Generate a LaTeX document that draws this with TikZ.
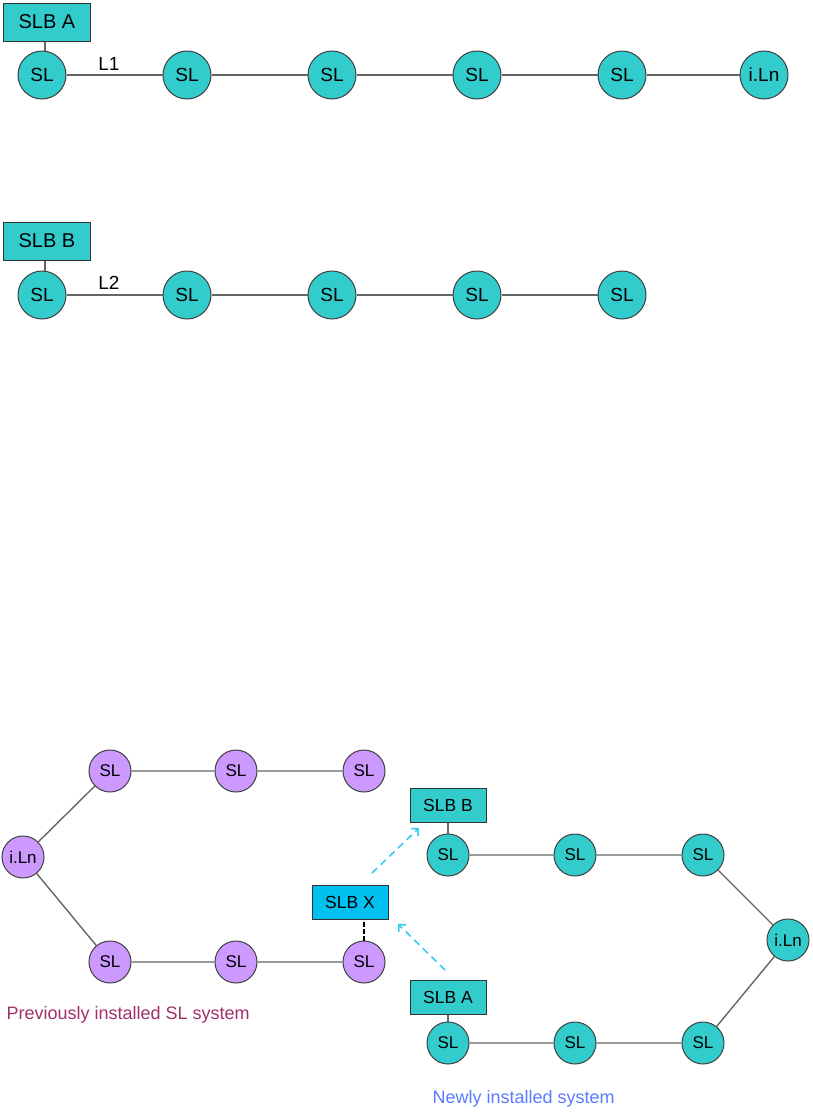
\documentclass[tikz,border=0pt]{standalone}
\usepackage{fontspec}
\setmainfont{Liberation Sans}
\usetikzlibrary{arrows.meta}
\definecolor{slteal}{HTML}{33CCCC}
\definecolor{slpurple}{HTML}{CC99FF}
\definecolor{slbx}{HTML}{00C0F0}
\definecolor{oldtext}{HTML}{A0306A}
\definecolor{newtext}{HTML}{5A7BFF}
\tikzset{
    slbig/.style={circle, draw=black!75, line width=1pt, fill=slteal, minimum size=48pt, inner sep=0pt, font=\fontsize{19}{19}\selectfont},
    slsmall/.style={circle, draw=black!75, line width=1pt, fill=slteal, minimum size=42pt, inner sep=0pt, font=\fontsize{17}{17}\selectfont},
    slold/.style={slsmall, fill=slpurple},
    slbbig/.style={rectangle, draw=black!80, line width=1pt, fill=slteal, minimum width=87pt, minimum height=38pt, inner sep=0pt, font=\fontsize{20}{20}\selectfont},
    slbsmall/.style={rectangle, draw=black!80, line width=1pt, fill=slteal, minimum width=76pt, minimum height=34pt, inner sep=0pt, font=\fontsize{17.5}{18}\selectfont},
    link/.style={draw=black!60, line width=1.4pt},
    move/.style={draw=slbx!80!white, dashed, line width=1.6pt, dash pattern=on 7pt off 5pt, -{Straight Barb[length=5pt,width=10pt]}}
}
\begin{document}
\begin{tikzpicture}[x=1pt, y=-1pt]
    \useasboundingbox (0,0) rectangle (812,1114);
    % line L1
    \node(slba) [slbbig] at (47,22) {SLB A};
    \node(a1) [slbig] at (42,75) {SL};
    \node(a2) [slbig] at (187,75) {SL};
    \node(a3) [slbig] at (332,75) {SL};
    \node(a4) [slbig] at (477,75) {SL};
    \node(a5) [slbig] at (622,75) {SL};
    \node(a6) [slbig] at (764,75) {i.Ln};
    \node(lone) [font=\fontsize{19}{19}\selectfont] at (109,64) {L1};
    \draw[link] (slba.south -| 45,0) -- (a1.north -| 45,0);
    \draw[link] (a1) -- (a2) -- (a3) -- (a4) -- (a5) -- (a6);
    % line L2
    \node(slbb) [slbbig] at (47,241) {SLB B};
    \node(b1) [slbig] at (42,295) {SL};
    \node(b2) [slbig] at (187,295) {SL};
    \node(b3) [slbig] at (332,295) {SL};
    \node(b4) [slbig] at (477,295) {SL};
    \node(b5) [slbig] at (622,295) {SL};
    \node(ltwo) [font=\fontsize{19}{19}\selectfont] at (109,283) {L2};
    \draw[link] (slbb.south -| 45,0) -- (b1.north -| 45,0);
    \draw[link] (b1) -- (b2) -- (b3) -- (b4) -- (b5);
    % previously installed system
    \node(oldln) [slold] at (23,857) {i.Ln};
    \node(o1) [slold] at (110,771) {SL};
    \node(o2) [slold] at (236,771) {SL};
    \node(o3) [slold] at (364,771) {SL};
    \node(o4) [slold] at (110,962) {SL};
    \node(o5) [slold] at (236,962) {SL};
    \node(o6) [slold] at (364,962) {SL};
    \node(slbx) [slbsmall, fill=slbx] at (350,902) {SLB X};
    \draw[link] (o3) -- (o2) -- (o1) -- (oldln) -- (o4) -- (o5) -- (o6);
    \draw[black, line width=2.4pt, dash pattern=on 5pt off 2pt] (o6.north) -- (o6 |- slbx.south);
    \node(oldlabel) [text=oldtext, anchor=west, font=\fontsize{18}{18}\selectfont] at (3,1015) {Previously installed SL system};
    % newly installed system
    \node(newb) [slbsmall] at (448,805) {SLB B};
    \node(n1) [slsmall] at (448,855) {SL};
    \node(n2) [slsmall] at (575,855) {SL};
    \node(n3) [slsmall] at (703,855) {SL};
    \node(newln) [slsmall] at (788,940) {i.Ln};
    \node(n4) [slsmall] at (448,1043) {SL};
    \node(n5) [slsmall] at (575,1043) {SL};
    \node(n6) [slsmall] at (703,1043) {SL};
    \node(newa) [slbsmall] at (448,997) {SLB A};
    \draw[link] (newb) -- (n1);
    \draw[link] (newa) -- (n4);
    \draw[link] (n1) -- (n2) -- (n3) -- (newln) -- (n6) -- (n5) -- (n4);
    \node(newlabel) [text=newtext, anchor=west, font=\fontsize{18}{18}\selectfont] at (429,1099) {Newly installed system};
    % moves
    \coordinate (mvbstart) at (372,873);
    \coordinate (mvbend) at (419,828);
    \coordinate (mvastart) at (445,970);
    \coordinate (mvaend) at (398,924);
    \draw[move] (mvbstart) -- (mvbend);
    \draw[move] (mvastart) -- (mvaend);
\end{tikzpicture}
\end{document}
